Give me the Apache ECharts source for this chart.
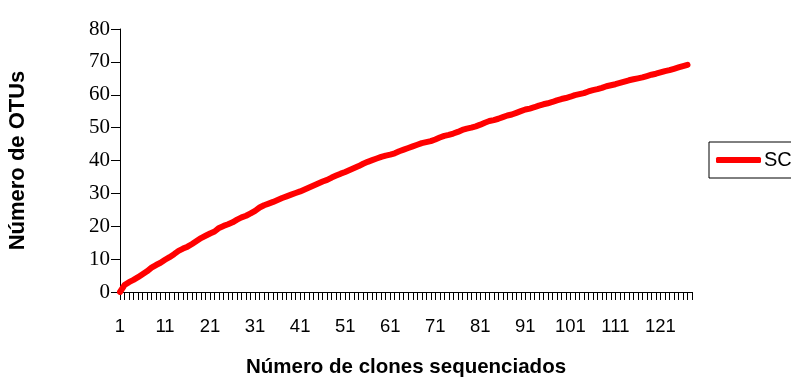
<!DOCTYPE html>
<html>
<head>
<meta charset="utf-8">
<script src="https://cdn.jsdelivr.net/npm/echarts@6/dist/echarts.min.js"></script>
<style>
html,body{margin:0;padding:0;background:#fff;}
#main{width:791px;height:377px;}
</style>
</head>
<body>
<div id="main"></div>
<script>
// Categories: clone number 1..128 (axis runs one category past the last point)
const clones = Array.from({length: 128}, (_, i) => String(i + 1));

// Cumulative number of OTUs per sequenced clone (series "SC")
const otusSC = [
  0, 2.1, 3.0, 3.7, 4.5, 5.4, 6.3, 7.4, 8.2, 8.9,
  9.8, 10.6, 11.5, 12.5, 13.2, 13.8, 14.6, 15.5, 16.4, 17.1,
  17.8, 18.4, 19.5, 20.1, 20.6, 21.2, 22.0, 22.7, 23.2, 23.9,
  24.7, 25.7, 26.4, 26.9, 27.4, 28.0, 28.6, 29.1, 29.6, 30.1,
  30.6, 31.2, 31.8, 32.4, 33.0, 33.6, 34.1, 34.8, 35.4, 36.0,
  36.5, 37.1, 37.7, 38.3, 39.0, 39.6, 40.1, 40.6, 41.1, 41.5,
  41.8, 42.2, 42.8, 43.3, 43.8, 44.3, 44.8, 45.3, 45.6, 45.9,
  46.4, 47.0, 47.5, 47.8, 48.2, 48.7, 49.3, 49.7, 50.0, 50.4,
  50.9, 51.5, 52.0, 52.3, 52.7, 53.2, 53.7, 54.0, 54.5, 55.0,
  55.5, 55.8, 56.2, 56.7, 57.1, 57.4, 57.8, 58.3, 58.7, 59.0,
  59.4, 59.9, 60.2, 60.5, 61.0, 61.4, 61.7, 62.1, 62.6, 62.9,
  63.2, 63.6, 64.0, 64.4, 64.7, 65.0, 65.3, 65.7, 66.1, 66.4,
  66.8, 67.2, 67.5, 67.9, 68.3, 68.7, 69.1
];

const seriesName = 'SC';
const yTitle = 'Número de OTUs';
const xTitle = 'Número de clones sequenciados';

const chart = echarts.init(document.getElementById('main'), null, {renderer: 'canvas'});
chart.setOption({
  animation: false,
  backgroundColor: '#ffffff',
  grid: {left: 120, right: 99, top: 29, bottom: 85, containLabel: false, outerBoundsMode: 'none'},
  legend: {
    data: [{name: seriesName, icon: 'roundRect'}],
    left: 709,
    top: 142,
    orient: 'vertical',
    padding: [7, 10, 7, 7],
    itemWidth: 45,
    itemHeight: 6,
    itemGap: 0,
    borderColor: '#000',
    borderWidth: 1,
    borderRadius: 0,
    backgroundColor: '#fff',
    itemStyle: {color: '#ff0000', borderWidth: 0},
    textStyle: {fontFamily: 'Liberation Sans', fontSize: 20, lineHeight: 22, color: '#000', padding: [0, 0, 0, -2]}
  },
  xAxis: {
    type: 'category',
    data: clones,
    boundaryGap: false,
    name: xTitle,
    nameLocation: 'middle',
    nameGap: 65,
    nameTextStyle: {fontFamily: 'Liberation Sans', fontWeight: 'bold', fontSize: 20.5, color: '#000'},
    axisLine: {lineStyle: {color: '#000', width: 1}},
    axisTick: {show: true, interval: 0, length: 8, inside: false, lineStyle: {color: '#000', width: 1}},
    axisLabel: {interval: 9, margin: 25, fontFamily: 'Liberation Sans', fontSize: 18.5, color: '#000'},
    splitLine: {show: false}
  },
  yAxis: {
    type: 'value',
    min: 0,
    max: 80,
    interval: 10,
    name: yTitle,
    nameLocation: 'middle',
    nameGap: 91,
    nameTextStyle: {fontFamily: 'Liberation Sans', fontWeight: 'bold', fontSize: 22, color: '#000'},
    axisLine: {show: true, lineStyle: {color: '#000', width: 1}},
    axisTick: {show: true, length: 9, inside: false, lineStyle: {color: '#000', width: 1}},
    axisLabel: {margin: 10, fontFamily: 'Liberation Serif', fontSize: 21, color: '#000'},
    splitLine: {show: false}
  },
  series: [{
    name: seriesName,
    type: 'line',
    data: otusSC,
    symbol: 'none',
    smooth: false,
    lineStyle: {color: '#ff0000', width: 6, cap: 'round', join: 'round'},
    itemStyle: {color: '#ff0000'}
  }]
});
</script>
</body>
</html>
